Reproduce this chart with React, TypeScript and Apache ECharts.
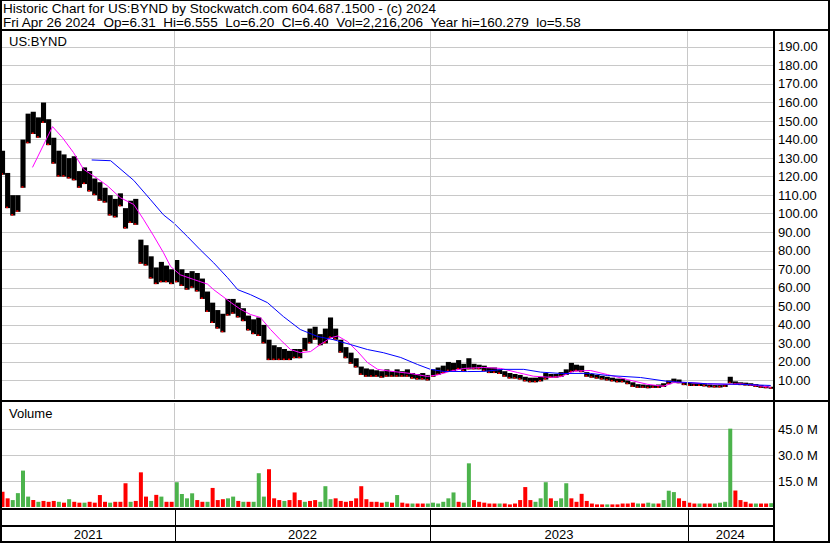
import React, { useEffect, useRef } from 'react';
import * as echarts from 'echarts';

// Weekly price range (US$), one entry per week starting late Apr 2021
const priceLow = [
  121, 103, 99, 101, 114, 138, 143, 141, 149, 137,
  127, 120, 120, 119, 118, 114, 116, 112, 110, 107,
  106, 99, 98, 104, 92, 95, 94, 73, 72, 65,
  62, 63, 63, 62, 63, 61, 59, 60, 58, 54,
  47, 41, 38, 36, 45, 46, 44, 42, 37, 35,
  34, 30, 21, 21, 21, 21, 21, 22, 22, 26,
  30, 32, 29, 30, 33, 32, 25, 22, 19, 17,
  13, 12, 12, 12, 11.5, 12, 12, 12, 12, 12,
  11, 10.5, 10.5, 10, 12, 13, 14, 15, 15, 16,
  15, 16, 16, 16, 15, 14, 14, 13.5, 12, 11,
  11, 10.5, 9.5, 9, 9, 9.5, 10.5, 11.5, 11.5, 12,
  13, 14.5, 15, 14.5, 12, 11.5, 11, 10.5, 10, 9.5,
  9, 9, 8, 6.5, 6, 6, 5.8, 6, 6, 6.5,
  8, 9, 8.5, 7.5, 7, 7, 7, 6.8, 6.3, 6.2,
  6.2, 6.5, 8.5, 7.8, 7.5, 7.3, 7, 6.5, 6, 5.8,
  5.6,
];
const priceHigh = [
  134, 122, 110, 110, 140, 154, 155, 152, 160, 151,
  141, 134, 132, 130, 131, 123, 125, 123, 119, 117,
  114, 110, 108, 111, 103, 107, 108, 86, 83, 77,
  71, 74, 72, 70, 75, 70, 68, 69, 68, 65,
  58, 52, 48, 46, 54, 54, 52, 49, 45, 43,
  44, 40, 32, 29, 28, 27, 26, 27, 27, 33,
  38, 39, 35, 38, 44, 38, 32, 28, 25, 22,
  17.5, 16.5, 16, 15.5, 15, 16, 15, 16, 15, 16,
  14, 13.5, 14, 13, 16, 17, 18, 20, 19.5, 21,
  19, 22, 19, 18.5, 18, 17, 17, 16, 15, 14,
  13.5, 13, 12, 11.5, 11.5, 12, 14, 13.5, 13.5, 14.5,
  16, 19.5, 18.5, 18, 14.5, 13.5, 13, 12.5, 12, 11.5,
  11, 11, 10, 9, 8, 7.8, 7.5, 7.5, 7.8, 8.5,
  10, 11, 10.5, 9, 8.8, 8.5, 8.5, 8, 7.8, 7.5,
  7.5, 7.8, 12, 9.5, 9, 8.8, 8.5, 8, 7.5, 7,
  6.6,
];

// Weekly representative daily volume (millions) and direction (g = up, r = down)
const volumeM = [
  8.8, 5, 4, 8, 21, 6, 4, 3, 3.5, 3,
  3.5, 3, 2.5, 4.5, 3, 2.5, 2.5, 3, 2.5, 6.9,
  3, 2.5, 3, 3, 13.7, 3, 3.5, 20, 6, 3.5,
  7, 6, 3, 3, 14.3, 7.5, 5, 7.9, 4, 3,
  3, 11, 4, 4.5, 5, 6, 3.5, 3, 3, 3,
  19.5, 6, 21.8, 5, 4, 3.5, 4, 8.4, 4, 3,
  3.5, 4, 3, 12, 4.5, 5, 3.5, 3, 3.5, 5,
  12, 4.5, 3, 3, 2.5, 3, 2.5, 6.9, 2.5, 2,
  2, 2, 2, 2, 2.5, 2, 3, 5, 8.4, 3,
  2.5, 25.2, 4, 3, 2.5, 2, 2, 2, 2, 1.5,
  2, 4, 11.5, 4, 3, 5, 14.3, 5, 3.5, 5,
  13.7, 5, 3, 7.6, 3.5, 2, 1.5, 1.5, 1.5, 1.5,
  1.5, 2, 2, 2.5, 2, 2, 2.5, 2, 2, 4,
  9.4, 8.6, 5, 3.5, 2.5, 2, 2, 2, 2, 2,
  2.5, 3, 45.2, 9.5, 4, 3, 2, 2, 2, 2,
  2.2,
];
const volumeDir =
  'rrggggrgrr' + 'rgrgrrgrrr' + 'rgrrrgrrrg' + 'rgrrggggrr' + 'grrrggrgrg' +
  'ggrrrgrrrg' + 'rrgggrrrrr' + 'rrrrrgrgrr' + 'grrggggggr' + 'ggrrrrrgrr' +
  'rrrrgggrgg' + 'grrrrrrrgr' + 'rrrrgrggrg' + 'ggrrrrgrrg' + 'gggrrrrgrrg';

// Moving averages: week position and value
const maShortWeek = [5.85, 9.76, 11.7, 13.85, 15.8, 18.5, 20.5, 23.0, 25.6, 27.5, 29.5, 31.4, 32.8, 34.7, 37.3, 40, 41.2, 44.6, 46.4, 48.4, 50.3, 52.3, 54.2, 56.2, 58.1, 60.1, 62, 64, 65.4, 67.3, 69.3, 71.2, 73.2, 75.7, 79.6, 82.9, 84.9, 87.4, 90, 93.9, 97.2, 100.5, 103.6, 106.9, 108.9, 111.4, 114.7, 118, 121.9, 125.9, 129, 130.9, 133.7, 137.6, 141.5, 144, 147.3, 149.9];
const maShortValue = [125, 147, 141, 133, 124, 119, 115, 108.6, 105, 97, 88, 79, 71.5, 67, 64.5, 62, 59, 52, 48.5, 45.6, 44, 37.5, 32, 26.7, 25, 25.6, 29.4, 33, 34, 31, 25.6, 19.7, 16, 15, 13.8, 12.2, 13, 15, 16.5, 17, 16.5, 14.3, 12.3, 11.7, 12, 15, 15.4, 13.2, 10.5, 7.9, 6.9, 8.8, 8.9, 8.2, 7.9, 8.2, 7.3, 6.3];
const maLongWeek = [17.4, 21.1, 25.6, 28.9, 31.4, 33.4, 36.1, 38.6, 41.2, 43.9, 45.9, 48.4, 51.7, 54.8, 58.1, 61.5, 64.6, 67.9, 71.2, 74.3, 77.7, 81, 83.5, 86, 90.7, 93.9, 97.8, 101.7, 105, 108.9, 114.7, 118, 124.5, 129.8, 133.7, 137.6, 144, 149.9];
const maLongValue = [129, 128.6, 118, 107.5, 99.4, 95, 87.6, 80.5, 73.5, 65.5, 59, 56.3, 52, 44.5, 37.5, 33.7, 32, 29.4, 26.7, 25, 22.4, 18.6, 16, 14.9, 14.8, 14.9, 16, 16, 14.5, 13.8, 13.8, 12.7, 11.6, 9.5, 8.9, 8.2, 7.9, 7.3];

// Calendar years: label and week position where each starts / ends
const yearLabels = ['2021', '2022', '2023', '2024'];
const yearBounds = [-0.1, 33.56, 83.51, 133.66, 150.34];

const headerLine1 = 'Historic Chart for US:BYND by Stockwatch.com 604.687.1500 - (c) 2024';
const headerFields = ['Fri Apr 26 2024', 'Op=6.31', 'Hi=6.555', 'Lo=6.20', 'Cl=6.40', 'Vol=2,216,206', 'Year hi=160.279', 'lo=5.58'];
const symbolLabel = 'US:BYND';
const volumeLabel = 'Volume';

const FONT = '"Liberation Sans", Arial, Helvetica, sans-serif';
const HEADER_SIZE = 13.5;
const GRID_GRAY = '#c8c8c8';

export default function App() {
  const ref = useRef<HTMLDivElement>(null);

  useEffect(() => {
    if (!ref.current) return;
    const chart = echarts.init(ref.current, undefined, { renderer: 'svg' });

    const xMin = yearBounds[0];
    const xMax = yearBounds[yearBounds.length - 1];
    const innerBounds = yearBounds.slice(1, -1);
    const grids = [
      { left: 2, right: 57, top: 31, height: 368 },
      { left: 2, right: 57, top: 403, height: 104 },
      { left: 2, right: 57, top: 510, height: 15 },
      { left: 2, right: 57, top: 527, height: 14 },
    ];

    const yearMarkLine = {
      silent: true,
      symbol: ['none', 'none'],
      label: { show: false },
      lineStyle: { color: GRID_GRAY, width: 1, type: 'solid' },
      emphasis: { disabled: true },
      data: innerBounds.map((b) => ({ xAxis: b })),
    };

    const border = (x: number, y: number, w: number, h: number) => ({
      type: 'rect',
      z: 100,
      silent: true,
      shape: { x, y, width: w, height: h },
      style: { fill: '#000' },
    });
    const label = (text: string, x: number, y: number, size = 13) => ({
      type: 'text',
      z: 100,
      silent: true,
      x,
      y,
      style: {
        text,
        fill: '#000',
        font: `${size}px ${FONT}`,
        textAlign: 'left',
        align: 'left',
        textVerticalAlign: 'middle',
        verticalAlign: 'middle',
      },
    });

    // second header line: fields separated by a double space
    const canvas = document.createElement('canvas');
    const ctx = canvas.getContext('2d');
    const measure = (t: string) => {
      if (!ctx) return t.length * 7;
      ctx.font = `${HEADER_SIZE}px ${FONT}`;
      return ctx.measureText(t).width;
    };
    const gap = measure('  ') || 7.5;
    const headerTexts: any[] = [];
    let hx = 3;
    headerFields.forEach((f) => {
      headerTexts.push(label(f, hx, 22, HEADER_SIZE));
      hx += measure(f) + gap;
    });

    const option: any = {
      animation: false,
      backgroundColor: '#fff',
      grid: grids,
      xAxis: grids.map((_, k) => ({
        type: 'value',
        gridIndex: k,
        min: xMin,
        max: xMax,
        show: false,
      })),
      yAxis: [
        {
          type: 'value',
          gridIndex: 0,
          position: 'right',
          min: 0,
          max: 198.6,
          interval: 10,
          axisLine: { show: false },
          axisTick: { show: false },
          splitLine: { show: true, showMaxLine: false, showMinLine: false, lineStyle: { color: GRID_GRAY, width: 1 } },
          axisLabel: {
            margin: 5,
            color: '#000',
            fontSize: 13,
            fontFamily: FONT,
            formatter: (v: number) => (v > 0 && v <= 190 ? v.toFixed(2) : ''),
          },
        },
        {
          type: 'value',
          gridIndex: 1,
          position: 'right',
          min: 0,
          max: 60,
          interval: 15,
          axisLine: { show: false },
          axisTick: { show: false },
          splitLine: { show: true, showMaxLine: false, showMinLine: false, lineStyle: { color: GRID_GRAY, width: 1 } },
          axisLabel: {
            margin: 5,
            color: '#000',
            fontSize: 13,
            fontFamily: FONT,
            formatter: (v: number) => (v > 0 && v < 60 ? `${v.toFixed(1)} M` : ''),
          },
        },
        { type: 'value', gridIndex: 2, min: 0, max: 1, show: false },
        { type: 'value', gridIndex: 3, min: 0, max: 1, show: false },
      ],
      series: [
        {
          type: 'custom',
          name: 'Price',
          xAxisIndex: 0,
          yAxisIndex: 0,
          clip: true,
          encode: { x: 0, y: [1, 2] },
          data: priceLow.map((lo, i) => [i, lo, priceHigh[i]]),
          renderItem: (_params: any, api: any) => {
            const i = api.value(0);
            const lo = api.value(1);
            const hi = api.value(2);
            const a = api.coord([i - 0.5, hi]);
            const b = api.coord([i + 0.5, lo]);
            const h = Math.max(2, b[1] - a[1]);
            return {
              type: 'group',
              children: [
                {
                  type: 'rect',
                  shape: { x: a[0], y: a[1], width: b[0] - a[0], height: h },
                  style: { fill: '#000' },
                },
                {
                  type: 'rect',
                  shape: { x: a[0] + 1, y: a[1] + h - 1.5, width: 2, height: 1.5 },
                  style: { fill: '#ff0000' },
                },
              ],
            };
          },
        },
        {
          type: 'line',
          name: 'MA short',
          xAxisIndex: 0,
          yAxisIndex: 0,
          z: 3,
          showSymbol: false,
          symbol: 'none',
          data: maShortWeek.map((w, i) => [w, maShortValue[i]]),
          lineStyle: { color: '#ff00ff', width: 1 },
          itemStyle: { color: '#ff00ff' },
          markLine: yearMarkLine,
        },
        {
          type: 'line',
          name: 'MA long',
          xAxisIndex: 0,
          yAxisIndex: 0,
          z: 3,
          showSymbol: false,
          symbol: 'none',
          data: maLongWeek.map((w, i) => [w, maLongValue[i]]),
          lineStyle: { color: '#0000ff', width: 1 },
          itemStyle: { color: '#0000ff' },
        },
        {
          type: 'bar',
          name: 'Volume',
          xAxisIndex: 1,
          yAxisIndex: 1,
          barWidth: 4,
          data: volumeM.map((v, i) => ({
            value: [i, v],
            itemStyle: { color: volumeDir[i] === 'g' ? '#4cb34c' : '#ff0000' },
          })),
          markLine: yearMarkLine,
        },
        {
          type: 'custom',
          name: 'Separators',
          xAxisIndex: 2,
          yAxisIndex: 2,
          data: innerBounds.map((b) => [b]),
          renderItem: (_params: any, api: any) => {
            const p0 = api.coord([api.value(0), 0]);
            const p1 = api.coord([api.value(0), 1]);
            const x = Math.round(p0[0]) + 0.5;
            return {
              type: 'line',
              shape: { x1: x, y1: p0[1], x2: x, y2: p1[1] },
              style: { stroke: '#000', lineWidth: 1 },
            };
          },
        },
        {
          type: 'custom',
          name: 'Years',
          xAxisIndex: 3,
          yAxisIndex: 3,
          data: yearLabels.map((_, k) => [yearBounds[k], yearBounds[k + 1], k]),
          renderItem: (_params: any, api: any) => {
            const s = api.value(0);
            const e = api.value(1);
            const k = api.value(2);
            const pS = api.coord([s, 0.5]);
            const pE0 = api.coord([e, 0]);
            const pE1 = api.coord([e, 1]);
            const x = Math.round(pE0[0]) + 0.5;
            const children: any[] = [
              {
                type: 'text',
                x: (pS[0] + pE0[0]) / 2,
                y: pS[1],
                style: {
                  text: yearLabels[k],
                  fill: '#000',
                  font: `13px ${FONT}`,
                  align: 'center',
                  verticalAlign: 'middle',
                },
              },
            ];
            if (k < yearLabels.length - 1) {
              children.push({
                type: 'line',
                shape: { x1: x, y1: pE0[1], x2: x, y2: pE1[1] },
                style: { stroke: '#000', lineWidth: 1 },
              });
            }
            return { type: 'group', children };
          },
        },
      ],
      graphic: [
        border(0, 0, 830, 1),
        border(0, 0, 2, 543),
        border(828, 0, 2, 543),
        border(0, 541, 830, 2),
        border(0, 29, 830, 2),
        border(0, 400, 830, 2),
        border(773, 29, 2, 514),
        border(0, 508, 773, 2),
        border(0, 525, 773, 2),
        label(headerLine1, 3, 8, HEADER_SIZE),
        ...headerTexts,
        label(symbolLabel, 9, 41.5),
        label(volumeLabel, 9, 413.5),
      ],
    };

    chart.setOption(option);
    return () => chart.dispose();
  }, []);

  return (
    <div
      ref={ref}
      style={{ position: 'fixed', left: 0, top: 0, width: '830px', height: '543px', background: '#fff' }}
    />
  );
}
